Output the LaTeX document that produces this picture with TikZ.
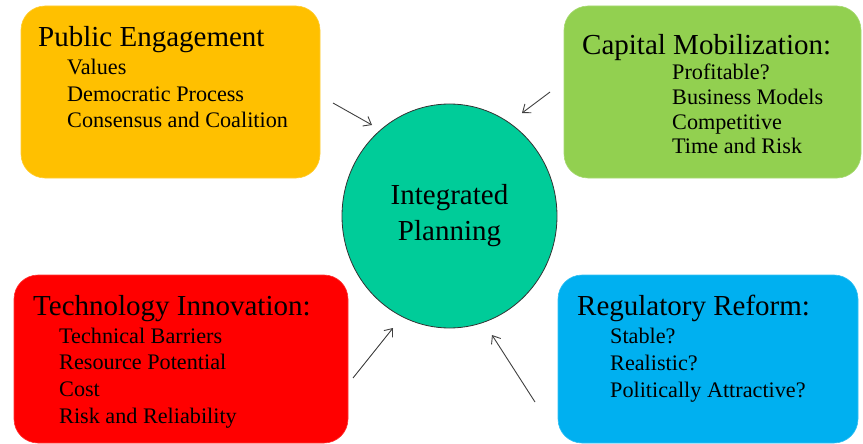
\documentclass[tikz,border=0pt]{standalone}
\usepackage{fontspec}
\setmainfont{Liberation Serif}
\usetikzlibrary{arrows.meta,shapes.geometric,positioning}

\definecolor{engageorange}{RGB}{255,192,0}
\definecolor{capitalgreen}{RGB}{146,208,80}
\definecolor{techred}{RGB}{255,0,0}
\definecolor{regblue}{RGB}{0,176,240}
\definecolor{planteal}{RGB}{0,204,153}

\begin{document}
\begin{tikzpicture}
	[x=1pt,y=-1pt,>={Straight Barb[length=7pt,width=11pt]},
		box/.style={rectangle,rounded corners=24pt,fill=#1,draw=#1!80!white,line width=0.6pt},
		title/.style={anchor=base west,inner sep=0pt,font=\fontsize{29}{34}\selectfont},
		item/.style={anchor=base west,inner sep=0pt,font=\fontsize{22.2}{26}\selectfont},
		link/.style={->,draw=black!75,line width=0.9pt}]

	\useasboundingbox (0,0) rectangle (863,444);

	% the four boxes
	\node[box=engageorange, minimum width=299pt, minimum height=172pt] (pub) at (170.5,92) {};
	\node[box=capitalgreen, minimum width=297pt, minimum height=172pt] (cap) at (712.5,92) {};
	\node[box=techred, minimum width=334pt, minimum height=168pt] (tech) at (181,359) {};
	\node[box=regblue, minimum width=300pt, minimum height=168pt] (reg) at (708,359) {};

	% centre
	\node[ellipse,fill=planteal,draw=black!80,line width=0.8pt,minimum width=215pt,minimum height=224pt,
		align=center,font=\fontsize{29}{36}\selectfont] (plan) at (449.5,216) {Integrated\\Planning};

	% titles
	\node[title] (pub-t) at (38,47) {Public Engagement};
	\node[title] (cap-t) at (582,55) {Capital Mobilization:};
	\node[title] (tech-t) at (33,315) {Technology Innovation:};
	\node[title] (reg-t) at (577,315) {Regulatory Reform:};

	% items
	\foreach \txt [count=\i] in {Values, Democratic Process, Consensus and Coalition}
		\node[item] (pub-\i) at (67,{75+26.5*(\i-1)}) {\txt};
	\foreach \txt [count=\i] in {Profitable?, Business Models, Competitive, Time and Risk}
		\node[item] (cap-\i) at (672,{80+24.5*(\i-1)}) {\txt};
	\foreach \txt [count=\i] in {Technical Barriers, Resource Potential, Cost, Risk and Reliability}
		\node[item] (tech-\i) at (59,{343+26.7*(\i-1)}) {\txt};
	\foreach \txt [count=\i] in {Stable?, Realistic?, Politically Attractive?}
		\node[item] (reg-\i) at (610,{343+27*(\i-1)}) {\txt};

	% arrows
	\coordinate (a1) at (333,103);  \coordinate (b1) at (372,125);
	\coordinate (a2) at (550,92);   \coordinate (b2) at (522,113);
	\coordinate (a3) at (353,378);  \coordinate (b3) at (393,328);
	\coordinate (a4) at (535,402);  \coordinate (b4) at (492,335);

	\path
	(a1) edge[link] (b1)
	(a2) edge[link] (b2)
	(a3) edge[link] (b3)
	(a4) edge[link] (b4)
	;

\end{tikzpicture}
\end{document}
